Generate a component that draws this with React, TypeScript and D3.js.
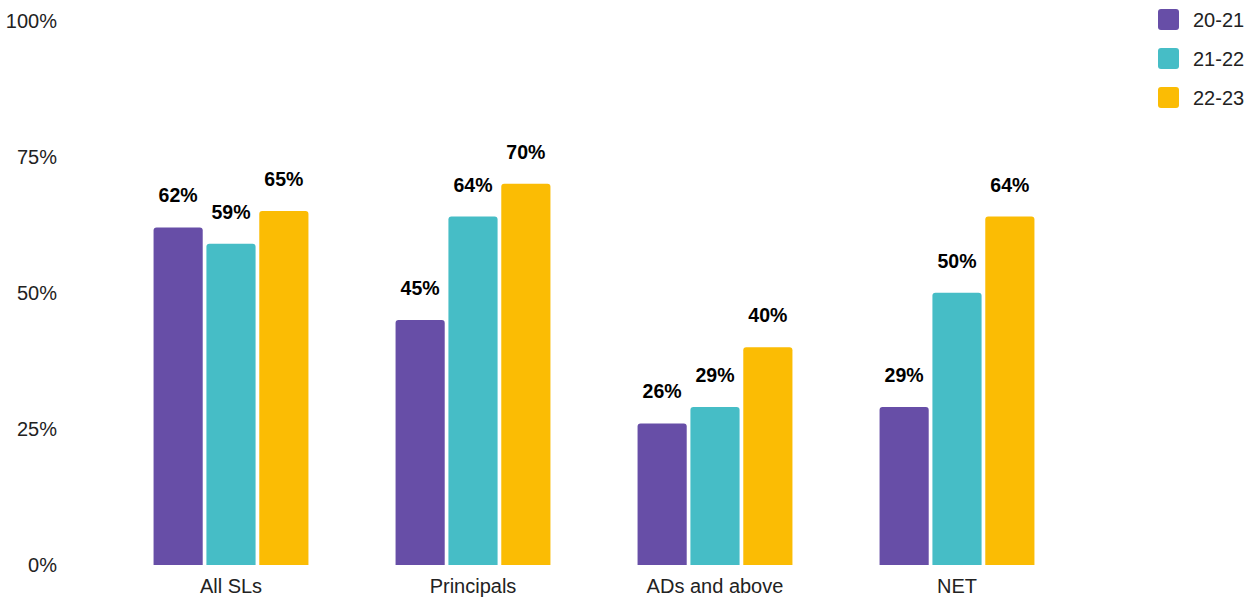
import React, { useEffect, useRef } from 'react';
import * as d3 from 'd3';

const categories = ['All SLs', 'Principals', 'ADs and above', 'NET'];
const seriesNames = ['20-21', '21-22', '22-23'];
const values2021 = [62, 45, 26, 29];
const values2122 = [59, 64, 29, 50];
const values2223 = [65, 70, 40, 64];
const yTicks = [0, 25, 50, 75, 100];
const colors = ['#674EA7', '#46BDC6', '#FBBC04'];

const width = 1247;
const height = 599;

// path for a bar with rounded top corners only
const topRounded = (x: number, y: number, w: number, h: number, r: number) => {
  const rr = Math.min(r, w / 2, h);
  return `M${x},${y + h}V${y + rr}Q${x},${y} ${x + rr},${y}H${x + w - rr}Q${x + w},${y} ${x + w},${y + rr}V${y + h}Z`;
};

const App: React.FC = () => {
  const svgRef = useRef<SVGSVGElement>(null);

  useEffect(() => {
    if (!svgRef.current) return;
    const svg = d3.select(svgRef.current);
    svg.selectAll('*').remove();

    const font = '"Liberation Sans", Arial, sans-serif';
    const series = [values2021, values2122, values2223];

    const x0 = d3.scaleBand<string>()
      .domain(categories)
      .range([110, 1078])
      .paddingInner(0.36)
      .paddingOuter(0.18);

    const x1 = d3.scaleBand<string>()
      .domain(seriesNames)
      .range([0, x0.bandwidth()])
      .paddingInner(0.07);

    const y = d3.scaleLinear().domain([0, 100]).range([565, 20.5]);

    // y tick labels
    svg.append('g')
      .selectAll('text')
      .data(yTicks)
      .join('text')
      .attr('x', 57)
      .attr('y', d => y(d))
      .attr('dy', '0.35em')
      .attr('text-anchor', 'end')
      .style('font-family', font)
      .style('font-size', '20px')
      .style('fill', '#222')
      .text(d => `${d}%`);

    // bars + labels
    categories.forEach((cat, ci) => {
      const g = svg.append('g').attr('transform', `translate(${x0(cat)},0)`);
      seriesNames.forEach((s, si) => {
        const v = series[si][ci];
        const bx = x1(s) as number;
        const by = y(v);
        g.append('path')
          .attr('d', topRounded(bx, by, x1.bandwidth(), y(0) - by, 3))
          .attr('fill', colors[si]);
        g.append('text')
          .attr('x', bx + x1.bandwidth() / 2)
          .attr('y', by - 25)
          .attr('text-anchor', 'middle')
          .style('font-family', font)
          .style('font-size', '19.5px')
          .style('font-weight', '700')
          .style('fill', '#000')
          .text(`${v}%`);
      });
      svg.append('text')
        .attr('x', (x0(cat) as number) + x0.bandwidth() / 2)
        .attr('y', 593)
        .attr('text-anchor', 'middle')
        .style('font-family', font)
        .style('font-size', '20px')
        .style('fill', '#222')
        .text(cat);
    });

    // legend
    const legend = svg.append('g').attr('transform', 'translate(1158,9)');
    seriesNames.forEach((s, i) => {
      const row = legend.append('g').attr('transform', `translate(0,${i * 39})`);
      row.append('rect')
        .attr('width', 21)
        .attr('height', 21)
        .attr('rx', 3)
        .attr('fill', colors[i]);
      row.append('text')
        .attr('x', 35)
        .attr('y', 10.5)
        .attr('dy', '0.35em')
        .style('font-family', font)
        .style('font-size', '20px')
        .style('fill', '#222')
        .text(s);
    });
  }, []);

  return (
    <div style={{ position: 'absolute', left: 0, top: 0, width, height, background: '#fff' }}>
      <svg ref={svgRef} width={width} height={height} />
    </div>
  );
};

export default App;
